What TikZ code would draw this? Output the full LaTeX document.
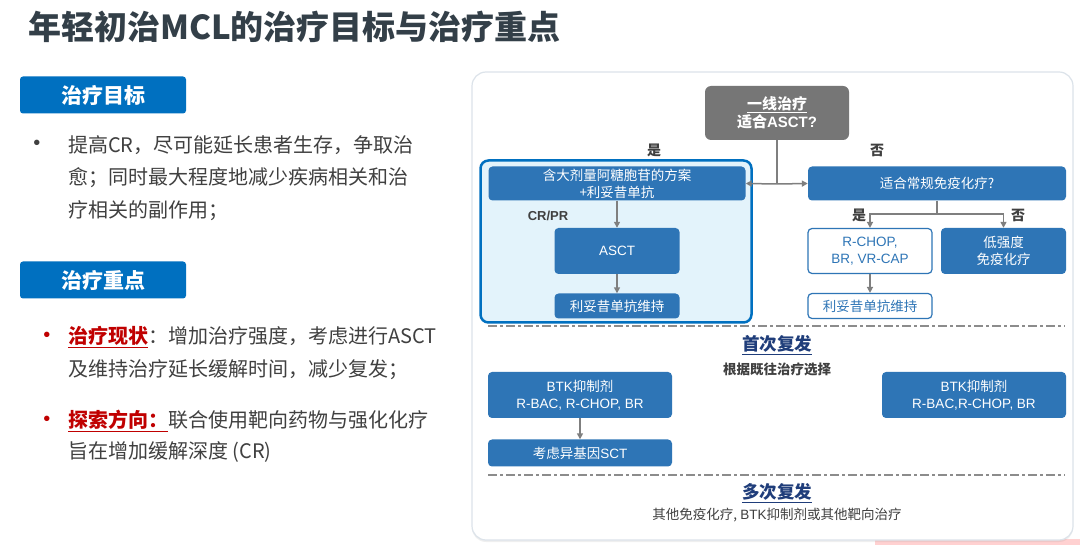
\documentclass[tikz,border=0pt]{standalone}
\usepackage{fontspec}
\setmainfont{Noto Sans CJK SC}
\newfontfamily\arl{Liberation Sans}
\usetikzlibrary{arrows.meta,shadows}
\definecolor{boxblue}{HTML}{2E75B6}
\definecolor{hdrblue}{HTML}{0070C0}
\definecolor{txtgray}{HTML}{404040}
\definecolor{titlegray}{HTML}{333F48}
\definecolor{arrgray}{HTML}{7F7F7F}
\definecolor{navyc}{HTML}{1F3D7A}
\definecolor{redc}{HTML}{C00000}
\definecolor{lightfill}{HTML}{E3F3FB}
\definecolor{topgray}{HTML}{767676}
\definecolor{panelline}{HTML}{DCE3EA}
\definecolor{dashgray}{HTML}{8C8C8C}
\tikzset{
  bluebox/.style={fill=boxblue, draw=none, rounded corners=4pt, text=white,
    font=\fontsize{13.5}{17}\selectfont, align=center, inner sep=0pt},
  whitebox/.style={fill=white, draw=boxblue, line width=1.2pt, rounded corners=4pt, text=boxblue,
    font=\fontsize{13.5}{17}\selectfont, align=center, inner sep=0pt},
  hdrbox/.style={fill=hdrblue, rounded corners=3pt, text=white, minimum width=166pt,
    minimum height=37pt, inner sep=0pt, font=\fontsize{21}{25}\selectfont\bfseries},
  bodytxt/.style={anchor=west, inner sep=0pt, text=txtgray, font=\fontsize{20}{24}\selectfont},
  bullet/.style={inner sep=0pt, font=\arl\fontsize{20}{22}\selectfont},
  lbl/.style={inner sep=0pt, text=txtgray, font=\fontsize{14}{17}\selectfont\bfseries},
  conn/.style={draw=arrgray, line width=1.5pt},
  arr/.style={conn, -{Triangle[length=6pt,width=6pt]}},
  dashdot/.style={draw=dashgray, line width=1.3pt, dash pattern=on 9pt off 3pt on 3pt off 3pt},
}
\begin{document}
\begin{tikzpicture}[x=1pt,y=-1pt]
\useasboundingbox (0,0) rectangle (1080,545);
\fill[white] (0,0) rectangle (1080,545);
\fill[red!18!white] (875,539) rectangle (1080,545);

% title
\node[anchor=west, inner sep=0pt, text=titlegray, font=\fontsize{33}{38}\selectfont\bfseries] (title) at (28,27) {年轻初治MCL的治疗目标与治疗重点};

% left column
\node[hdrbox] (h1) at (103,95) {治疗目标};
\node[bullet, text=txtgray] (b1) at (37,145) {•};
\node[bodytxt] (t1a) at (68,145) {提高CR，尽可能延长患者生存，争取治};
\node[bodytxt] (t1b) at (68,178) {愈；同时最大程度地减少疾病相关和治};
\node[bodytxt] (t1c) at (68,211) {疗相关的副作用；};

\node[hdrbox] (h2) at (103,280) {治疗重点};
\node[bullet, text=redc] (b2) at (47,337) {•};
\node[bodytxt] (t2a) at (68,337) {\textcolor{redc}{\bfseries\underline{治疗现状}}：增加治疗强度，考虑进行ASCT};
\node[bodytxt] (t2b) at (68,370) {及维持治疗延长缓解时间，减少复发；};
\node[bullet, text=redc] (b3) at (47,421) {•};
\node[bodytxt] (t3a) at (68,421) {\textcolor{redc}{\bfseries\underline{探索方向：}}联合使用靶向药物与强化化疗};
\node[bodytxt] (t3b) at (68,452) {旨在增加缓解深度 (CR)};

% right panel
\node[draw=panelline, fill=white, line width=1.2pt, rounded corners=14pt,
  minimum width=601pt, minimum height=468pt, inner sep=0pt,
  drop shadow={opacity=0.12, shadow xshift=0pt, shadow yshift=-2pt}] (panel) at (772.5,306) {};

% first line
\node[fill=topgray, rounded corners=6pt, text=white, minimum width=144pt, minimum height=54pt,
  inner sep=0pt, align=center, font=\fontsize{15}{18}\selectfont\bfseries] (top) at (777,113)
  {\underline{一线治疗}\\适合{\arl\bfseries ASCT?}};

\node[fill=lightfill, draw=hdrblue, line width=2.5pt, rounded corners=8pt,
  minimum width=271pt, minimum height=162pt, inner sep=0pt] (cont) at (616,241.5) {};
\node[bluebox, minimum width=257pt, minimum height=34pt] (hd) at (617,183.5)
  {含大剂量阿糖胞苷的方案\\+利妥昔单抗};
\node[bluebox, minimum width=125pt, minimum height=46pt] (asct) at (617,251) {{\arl ASCT}};
\node[bluebox, minimum width=125pt, minimum height=25pt] (m1) at (617,306) {利妥昔单抗维持};

\node[bluebox, minimum width=258pt, minimum height=34pt] (fit) at (937,183.5) {适合常规免疫化疗?};
\node[whitebox, minimum width=124pt, minimum height=45pt] (rchop) at (870,251)
  {{\arl R-CHOP,}\\{\arl BR, VR-CAP}};
\node[bluebox, minimum width=125pt, minimum height=46pt] (low) at (1003.5,251) {低强度\\免疫化疗};
\node[whitebox, minimum width=124pt, minimum height=25pt] (m2) at (870,306) {利妥昔单抗维持};

\node[lbl] (yes1) at (654,150) {是};
\node[lbl] (no1) at (877,150) {否};
\node[lbl] (yes2) at (859,215) {是};
\node[lbl] (no2) at (1018,215) {否};
\node[inner sep=0pt, text=txtgray, font=\arl\fontsize{13}{15}\selectfont\bfseries] (crpr) at (548,216) {CR/PR};

\coordinate (j1) at (777,184);
\coordinate (j2) at (937,214);
\draw[conn] (top.south) -- (j1);
\draw[arr] (j1) -- (hd.east);
\draw[arr] (j1) -- (fit.west);
\draw[arr] (hd.south) -- (asct.north);
\draw[arr] (asct.south) -- (m1.north);
\draw[conn] (fit.south) -- (j2);
\draw[arr] (j2) -| (rchop.north);
\draw[arr] (j2) -| (low.north);
\draw[arr] (rchop.south) -- (m2.north);

% first relapse
\coordinate (d1a) at (488,326);
\coordinate (d1b) at (1065,326);
\draw[dashdot] (d1a) -- (d1b);
\node[inner sep=0pt, text=navyc, font=\fontsize{17.5}{20}\selectfont\bfseries] (rel1) at (777,345) {\underline{首次复发}};
\node[inner sep=0pt, text=txtgray, font=\fontsize{13.5}{16}\selectfont\bfseries] (choose) at (777,369) {根据既往治疗选择};
\node[bluebox, minimum width=184pt, minimum height=46pt] (btk1) at (580,395)
  {{\arl BTK}抑制剂\\{\arl R-BAC, R-CHOP, BR}};
\node[bluebox, minimum width=184pt, minimum height=27pt] (sct) at (580,453) {考虑异基因{\arl SCT}};
\node[bluebox, minimum width=184pt, minimum height=46pt] (btk2) at (974,395)
  {{\arl BTK}抑制剂\\{\arl R-BAC,R-CHOP, BR}};
\draw[arr] (btk1.south) -- (sct.north);

% multiple relapse
\coordinate (d2a) at (488,475);
\coordinate (d2b) at (1065,475);
\draw[dashdot] (d2a) -- (d2b);
\node[inner sep=0pt, text=navyc, font=\fontsize{17.5}{20}\selectfont\bfseries] (rel2) at (777,493) {\underline{多次复发}};
\node[inner sep=0pt, text=txtgray, font=\fontsize{13.5}{16}\selectfont] (other) at (777,515) {其他免疫化疗, {\arl BTK}抑制剂或其他靶向治疗};
\end{tikzpicture}
\end{document}
